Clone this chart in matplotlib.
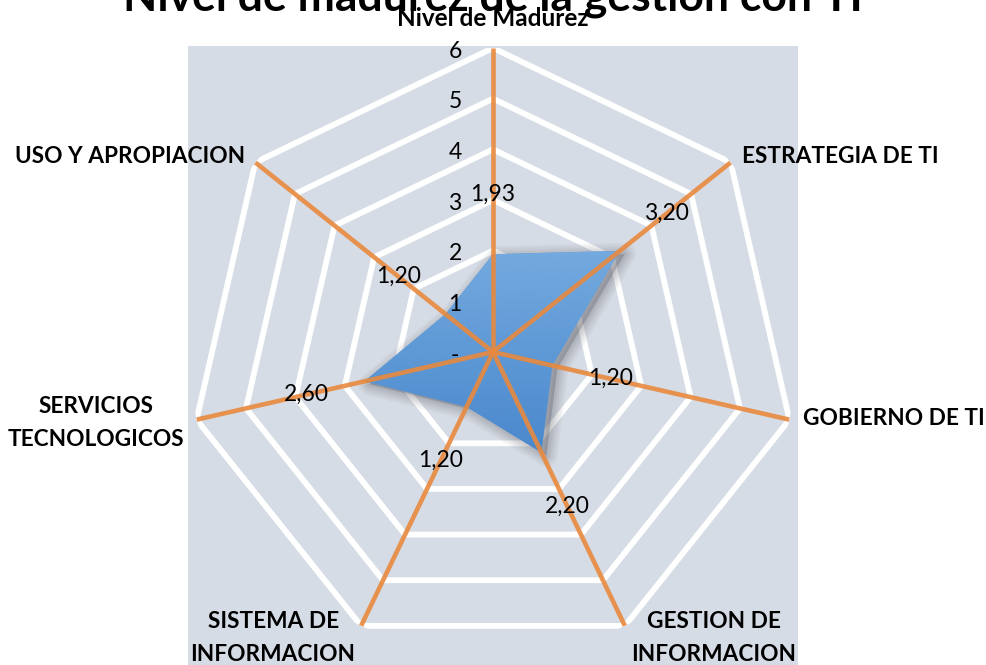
import numpy as np
import matplotlib
matplotlib.use("Agg")
import matplotlib.pyplot as plt
from matplotlib.patches import Polygon
from matplotlib.image import BboxImage
from matplotlib.colors import LinearSegmentedColormap
from matplotlib.transforms import Affine2D

# ---------------- data ----------------
title = "Nivel de madurez de la gestión con TI"
categories = ["Nivel de Madurez", "ESTRATEGIA DE TI", "GOBIERNO DE TI",
              "GESTION DE\nINFORMACION", "SISTEMA DE\nINFORMACION",
              "SERVICIOS\nTECNOLOGICOS", "USO Y APROPIACION"]
values = [1.93, 3.20, 1.20, 2.20, 1.20, 2.60, 1.20]
value_labels = ["1,93", "3,20", "1,20", "2,20", "1,20", "2,60", "1,20"]
tick_values = [0, 1, 2, 3, 4, 5, 6]
tick_labels = ["-", "1", "2", "3", "4", "5", "6"]
r_max = 6

# ---------------- style ----------------
plt.rcParams['font.family'] = ['Lato', 'DejaVu Sans']
BG = "#D6DCE5"
ORANGE = "#E8893E"
W, H = 986, 665

fig = plt.figure(figsize=(W / 100, H / 100), dpi=100)
fig.patch.set_facecolor("white")

# plot-area background
bg_ax = fig.add_axes([188 / W, 0, (798 - 188) / W, (H - 46) / H])
bg_ax.set_facecolor(BG)
bg_ax.set_xticks([])
bg_ax.set_yticks([])
for s in bg_ax.spines.values():
    s.set_visible(False)
bg_ax.set_zorder(-1)

cx, cy, R = 493, 352, 304
ax = fig.add_axes([(cx - R) / W, (H - cy - R) / H, 2 * R / W, 2 * R / H],
                  projection="polar")
ax.set_theta_zero_location("N")
ax.set_theta_direction(-1)
ax.set_ylim(0, r_max)
ax.axis("off")

n = len(categories)
theta = np.linspace(0, 2 * np.pi, n, endpoint=False)

# gridlines (heptagons)
for k in tick_values[1:]:
    gp = Polygon(np.column_stack([theta, np.full(n, k)]), closed=True,
                 fill=False, edgecolor="white", lw=4.2, joinstyle="miter",
                 zorder=1)
    ax.add_patch(gp)

# soft shadow
verts = np.column_stack([theta, values])
for lw in [16, 13, 10, 7.5, 5, 3]:
    tr = ax.transData + Affine2D().translate(5, -3)
    sp = Polygon(verts, closed=True, facecolor=(0.3, 0.3, 0.35, 0.05),
                 edgecolor=(0.3, 0.3, 0.35, 0.05), lw=lw, joinstyle="round",
                 transform=tr, zorder=1.5)
    ax.add_patch(sp)

# filled area with vertical gradient
poly = Polygon(verts, closed=True, facecolor="#5B9BD5", edgecolor="none",
               zorder=2)
ax.add_patch(poly)
cmap = LinearSegmentedColormap.from_list("g", ["#74AADF", "#4A88CD"])
bi = BboxImage(lambda r: poly.get_window_extent(r), cmap=cmap,
               interpolation="bicubic", origin="upper")
bi.set_data(np.linspace(0, 1, 256).reshape(-1, 1))
bi.set_clip_path(poly)
bi.set_zorder(2.1)
ax.add_artist(bi)

# axis spokes
for t in theta:
    ax.plot([t, t], [0, r_max], color=ORANGE, lw=3.3, alpha=0.9,
            solid_capstyle="butt", zorder=4)

# radial tick labels
for v, s in zip(tick_values, tick_labels):
    ax.annotate(s, xy=(0, v), xytext=(-38, -3), textcoords="offset pixels",
                ha="center", va="center", fontsize=16.5, color="black",
                annotation_clip=False, zorder=6)

# data labels
for t, v, s in zip(theta, values, value_labels):
    ax.text(t, v + 1.18, s, ha="center", va="center", fontsize=16.5,
            color="black", zorder=6, clip_on=False)

# category labels
cat_offsets = [(0, 29, "center"), (11, 6, "left"), (14, 1, "left"),
               (89, -12, "center"), (-88, -12, "center"),
               (-12, -3, "right"), (-10, 6, "right")]
cat_sizes = [17.5, 16.3, 16.3, 16.3, 16.3, 16.3, 16.3]
for t, c, (dx, dy, ha), fs in zip(theta, categories, cat_offsets, cat_sizes):
    ax.annotate(c, xy=(t, r_max), xytext=(dx, dy), textcoords="offset pixels",
                ha=ha, va="center", multialignment="center", fontsize=fs,
                fontweight="bold", linespacing=1.7, annotation_clip=False,
                zorder=6)

fig.text(0.5, 1 - 11 / H, title, ha="center", va="baseline", fontsize=32,
         fontweight="bold", zorder=-0.5)

fig.savefig("out.png", dpi=100)
